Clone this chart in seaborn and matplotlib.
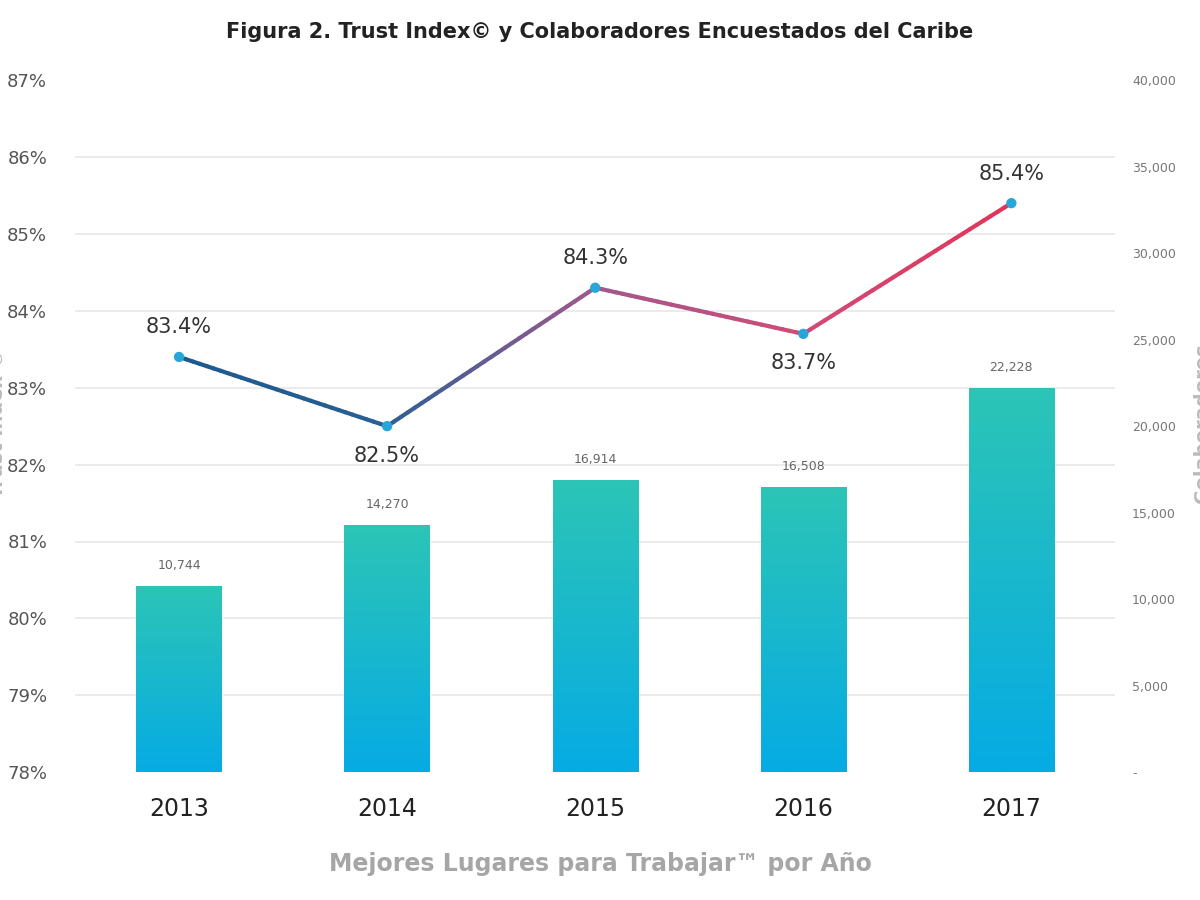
import numpy as np
import pandas as pd
import matplotlib
matplotlib.use("Agg")
import matplotlib.pyplot as plt
import seaborn as sns
from matplotlib.collections import LineCollection
from matplotlib.colors import LinearSegmentedColormap, to_rgb

years = ["2013", "2014", "2015", "2016", "2017"]
trust_index = [83.4, 82.5, 84.3, 83.7, 85.4]
colaboradores = [10744, 14270, 16914, 16508, 22228]
left_ticks = [78, 79, 80, 81, 82, 83, 84, 85, 86, 87]
right_ticks = [0, 5000, 10000, 15000, 20000, 25000, 30000, 35000, 40000]

sns.set_theme(style="white")
plt.rcParams['font.family'] = ['DejaVu Sans']

fig = plt.figure(figsize=(12, 9), dpi=100)
ax = fig.add_axes([0.0625, 0.142, 0.867, 0.769])

df = pd.DataFrame({"year": years, "n": colaboradores})
sns.barplot(data=df, x="year", y="n", ax=ax, width=0.41, color="#13b9cc",
            saturation=1, zorder=2)
ax.set_xlim(-0.5, 4.5)
ax.set_ylim(0, 40000)

# gradient fill for bars
top_c = np.array(to_rgb("#2cc5b6"))
bot_c = np.array(to_rgb("#06abe4"))
grad = np.linspace(0, 1, 256)[:, None]
img = top_c[None, None, :] * (1 - grad[:, :, None]) + bot_c[None, None, :] * grad[:, :, None]
for p in ax.patches:
    x0, y0 = p.get_x(), p.get_y()
    w, h = p.get_width(), p.get_height()
    im = ax.imshow(img, extent=[x0, x0 + w, y0, y0 + h], aspect="auto", zorder=3,
                   origin="upper")
    im.set_clip_path(p)
ax.set_xlim(-0.5, 4.5)
ax.set_ylim(0, 40000)

for i, v in enumerate(colaboradores):
    ax.annotate(f"{v:,}", (i, v), xytext=(0, 10), textcoords="offset points",
                ha="center", va="bottom", fontsize=9, color="#666666", zorder=5)

ax.set_xlabel("")
ax.set_ylabel("")
for s in ax.spines.values():
    s.set_visible(False)

ax2 = ax.twinx()

# right axis (bars)
ax.yaxis.tick_right()
ax.set_yticks(right_ticks)
ax.set_yticklabels(["-"] + [f"{t:,}" for t in right_ticks[1:]], fontsize=9, color="#777777")
ax.tick_params(axis="y", which="both", left=False, right=False, length=0, pad=12)
ax.set_yticks(np.linspace(0, 40000, len(left_ticks)), minor=True)
ax.grid(which="minor", axis="y", color="#e8e8e8", linewidth=1.2, zorder=0)
ax.grid(which="major", visible=False)
ax.tick_params(axis="x", labelsize=17, colors="#222222", pad=18, length=0)

# left axis (line)
ax2.yaxis.tick_left()
ax2.set_ylim(78, 87)
ax2.set_yticks(left_ticks)
ax2.set_yticklabels([f"{t}%" for t in left_ticks], fontsize=13, color="#555555")
ax2.tick_params(axis="y", which="both", left=False, right=False, length=0, pad=20)
ax2.grid(False)
for s in ax2.spines.values():
    s.set_visible(False)

xs = np.arange(len(years))
cmap = LinearSegmentedColormap.from_list(
    "trust", [(0.0, "#1b5a8e"), (0.25, "#2a5f95"), (0.5, "#a1588c"),
              (0.75, "#cf4b77"), (1.0, "#e2345a")])
seg_pts = []
seg_cols = []
for i in range(len(xs) - 1):
    for t0 in np.linspace(0, 1, 30, endpoint=False):
        t1 = t0 + 1 / 30
        xa = xs[i] + (xs[i + 1] - xs[i]) * t0
        xb = xs[i] + (xs[i + 1] - xs[i]) * t1
        ya = trust_index[i] + (trust_index[i + 1] - trust_index[i]) * t0
        yb = trust_index[i] + (trust_index[i + 1] - trust_index[i]) * t1
        seg_pts.append([(xa, ya), (xb, yb)])
        seg_cols.append(cmap(((xa + xb) / 2) / (len(xs) - 1)))
lc = LineCollection(seg_pts, colors=seg_cols, linewidths=3, zorder=4, capstyle="round")
ax2.add_collection(lc)
sns.scatterplot(x=xs, y=trust_index, ax=ax2, color="#27a6d9", s=55, zorder=6,
                edgecolor="none")
offsets = [1, -1, 1, -1, 1]
for i, v in enumerate(trust_index):
    o = offsets[i]
    ax2.annotate(f"{v}%", (xs[i], v), xytext=(0, 14 * o), textcoords="offset points",
                 ha="center", va="bottom" if o > 0 else "top", fontsize=15,
                 color="#333333", zorder=7)
ax2.set_xlim(-0.5, 4.5)

fig.text(0.5, 0.965, "Figura 2. Trust Index© y Colaboradores Encuestados del Caribe",
         ha="center", va="center", fontsize=15, fontweight="bold", color="#222222")
fig.text(0.5, 0.04, "Mejores Lugares para Trabajar™ por Año", ha="center", va="center",
         fontsize=17, fontweight="bold", color="#a6a6a6")
fig.text(-0.002, 0.53, "Trust Index ©", rotation=90, ha="center", va="center",
         fontsize=14, fontweight="bold", color="#bbbbbb")
fig.text(1.002, 0.53, "Colaboradores", rotation=90, ha="center", va="center",
         fontsize=14, fontweight="bold", color="#bbbbbb")

fig.savefig("out.png", dpi=100)
